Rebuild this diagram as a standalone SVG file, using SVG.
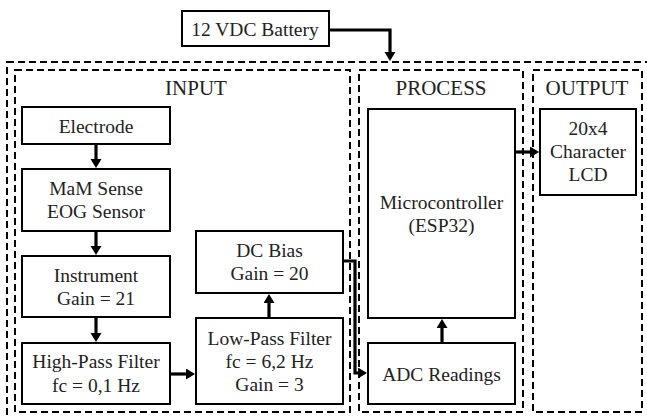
<svg xmlns="http://www.w3.org/2000/svg" width="647" height="418" viewBox="0 0 647 418">
<style>
.sec{fill:none;stroke:#000;stroke-width:2;stroke-dasharray:7 4}
.box{fill:#fff;stroke:#000;stroke-width:2}
text{fill:#222;text-anchor:middle}
.t{font-size:19.5px}
.h{font-size:21px}
.con path{fill:none;stroke:#000;stroke-width:3.2}
</style>
<defs>
<marker id="ah" markerUnits="userSpaceOnUse" markerWidth="12" markerHeight="12" refX="1" refY="5.5" orient="auto">
<path d="M0,0 L9,5.5 L0,11 z" fill="#000"/>
</marker>
</defs>
<rect width="647" height="418" fill="#fff"/>
<g font-family="'Liberation Serif', serif">
<g id="sections">
<rect class="sec" x="7" y="62" width="645" height="362"/>
<rect class="sec" x="15" y="70" width="335" height="342"/>
<rect class="sec" x="359" y="70" width="164" height="342"/>
<rect class="sec" x="533" y="70" width="109" height="342"/>
<text class="h" x="196" y="95">INPUT</text>
<text class="h" x="441" y="95">PROCESS</text>
<text class="h" x="587" y="95">OUTPUT</text>
</g>
<g id="battery"><rect class="box" x="182" y="11" width="147" height="35"/><text class="t" x="255" y="36">12 VDC Battery</text></g>
<g id="electrode"><rect class="box" x="22" y="107" width="148" height="37"/><text class="t" x="96" y="133">Electrode</text></g>
<g id="mam"><rect class="box" x="22" y="169" width="148" height="62"/><text class="t" x="96" y="195">MaM Sense</text><text class="t" x="96" y="218">EOG Sensor</text></g>
<g id="instrument"><rect class="box" x="22" y="256" width="148" height="61"/><text class="t" x="96" y="282">Instrument</text><text class="t" x="96" y="305">Gain = 21</text></g>
<g id="highpass"><rect class="box" x="22" y="343" width="148" height="61"/><text class="t" x="96" y="368">High-Pass Filter</text><text class="t" x="96" y="392">fc = 0,1 Hz</text></g>
<g id="dcbias"><rect class="box" x="196" y="231" width="147" height="62"/><text class="t" x="269.5" y="257">DC Bias</text><text class="t" x="269.5" y="280">Gain = 20</text></g>
<g id="lowpass"><rect class="box" x="196" y="318" width="147" height="86"/><text class="t" x="269.5" y="345">Low-Pass Filter</text><text class="t" x="269.5" y="368">fc = 6,2 Hz</text><text class="t" x="269.5" y="391">Gain = 3</text></g>
<g id="mcu"><rect class="box" x="368" y="109" width="147" height="209"/><text class="t" x="441.5" y="209">Microcontroller</text><text class="t" x="441.5" y="232">(ESP32)</text></g>
<g id="adc"><rect class="box" x="368" y="343" width="147" height="61"/><text class="t" x="441.5" y="381">ADC Readings</text></g>
<g id="lcd"><rect class="box" x="540" y="109" width="96" height="86"/><text class="t" x="588" y="135">20x4</text><text class="t" x="588" y="158">Character</text><text class="t" x="588" y="181">LCD</text></g>
</g>
<g id="connectors" class="con">
<path d="M329,30 H390 V53" marker-end="url(#ah)"/>
<path d="M96,144 V160" marker-end="url(#ah)"/>
<path d="M96,231 V247" marker-end="url(#ah)"/>
<path d="M96,317 V334" marker-end="url(#ah)"/>
<path d="M170,374 H187" marker-end="url(#ah)"/>
<path d="M269,318 V302" marker-end="url(#ah)"/>
<path d="M343,261 H355 V373 H359" marker-end="url(#ah)"/>
<path d="M442,343 V327" marker-end="url(#ah)"/>
<path d="M515,152 H531" marker-end="url(#ah)"/>
</g>
</svg>
